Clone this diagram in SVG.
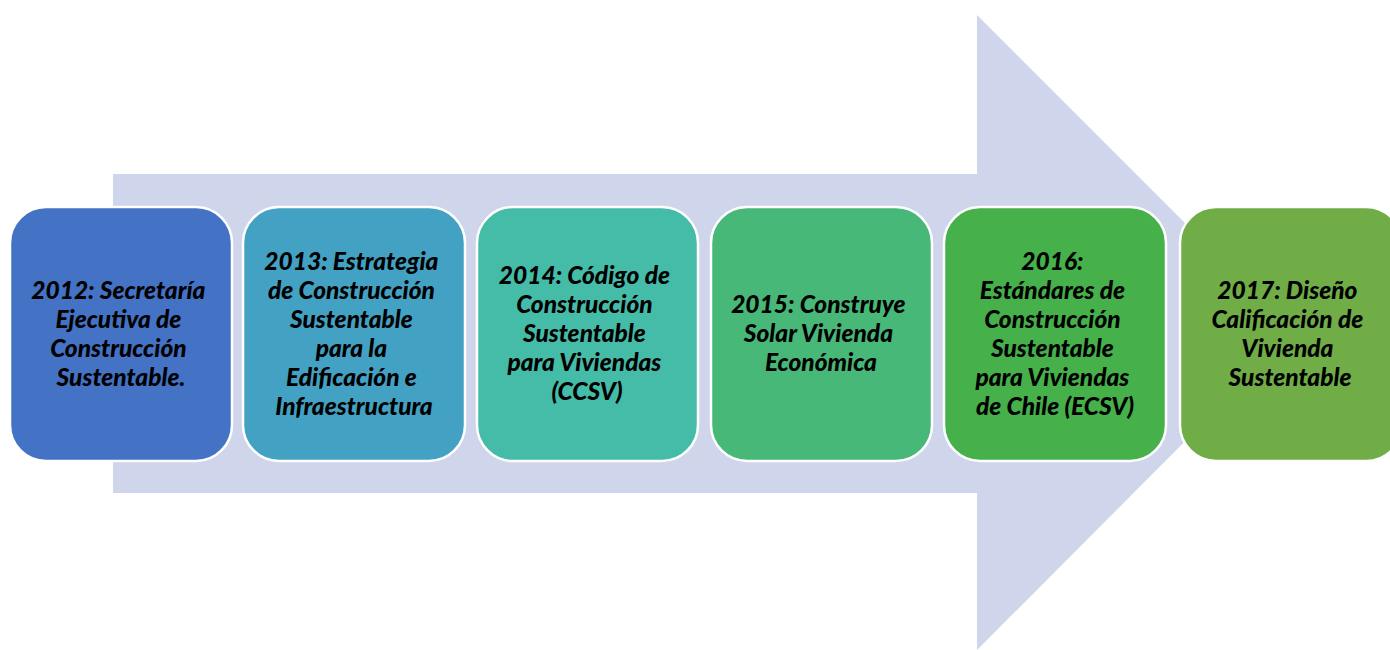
<svg xmlns="http://www.w3.org/2000/svg" width="1390" height="650" viewBox="0 0 1390 650">
  <style>
    .box { stroke: #ffffff; stroke-width: 2.5; }
    .lbl { font-family: Lato, "Liberation Sans", sans-serif; font-weight: 900; font-style: italic; font-size: 24.5px; fill: #000000; text-anchor: middle; }
  </style>
  <rect width="1390" height="650" fill="#ffffff"/>

  <!-- background timeline arrow -->
  <g id="timeline-arrow">
    <path d="M113,174 H977 V15 L1294,332 L977,650 V493 H113 Z" fill="#CFD5EA"/>
  </g>

  <g id="connectors"></g>

  <g id="node-2012">
    <rect class="box" x="10" y="207" width="222" height="254" rx="36" fill="#4472C4"/>
    <text class="lbl" x="121">
      <tspan x="121" y="299">2012: Secretaría</tspan>
      <tspan x="121" y="328">Ejecutiva de</tspan>
      <tspan x="121" y="357">Construcción</tspan>
      <tspan x="121" y="386">Sustentable.</tspan>
    </text>
  </g>

  <g id="node-2013">
    <rect class="box" x="243" y="207" width="222" height="254" rx="36" fill="#43A2C3"/>
    <text class="lbl" x="354">
      <tspan x="354" y="270">2013: Estrategia</tspan>
      <tspan x="354" y="299">de Construcción</tspan>
      <tspan x="354" y="328">Sustentable</tspan>
      <tspan x="354" y="357">para la</tspan>
      <tspan x="354" y="386">Edificación e</tspan>
      <tspan x="354" y="415">Infraestructura</tspan>
    </text>
  </g>

  <g id="node-2014">
    <rect class="box" x="477" y="207" width="221" height="254" rx="36" fill="#45BCA8"/>
    <text class="lbl" x="587">
      <tspan x="587" y="284">2014: Código de</tspan>
      <tspan x="587" y="313">Construcción</tspan>
      <tspan x="587" y="342">Sustentable</tspan>
      <tspan x="587" y="371">para Viviendas</tspan>
      <tspan x="587" y="400">(CCSV)</tspan>
    </text>
  </g>

  <g id="node-2015">
    <rect class="box" x="711" y="207" width="221" height="254" rx="36" fill="#47B878"/>
    <text class="lbl" x="821">
      <tspan x="821" y="313">2015: Construye</tspan>
      <tspan x="821" y="342">Solar Vivienda</tspan>
      <tspan x="821" y="371">Económica</tspan>
    </text>
  </g>

  <g id="node-2016">
    <rect class="box" x="944" y="207" width="222" height="254" rx="36" fill="#46B14A"/>
    <text class="lbl" x="1055">
      <tspan x="1055" y="270">2016:</tspan>
      <tspan x="1055" y="299">Estándares de</tspan>
      <tspan x="1055" y="328">Construcción</tspan>
      <tspan x="1055" y="357">Sustentable</tspan>
      <tspan x="1055" y="386">para Viviendas</tspan>
      <tspan x="1055" y="415">de Chile (ECSV)</tspan>
    </text>
  </g>

  <g id="node-2017">
    <rect class="box" x="1180" y="207" width="222" height="254" rx="36" fill="#70AD47"/>
    <text class="lbl" x="1290">
      <tspan x="1290" y="299">2017: Diseño</tspan>
      <tspan x="1290" y="328">Calificación de</tspan>
      <tspan x="1290" y="357">Vivienda</tspan>
      <tspan x="1290" y="386">Sustentable</tspan>
    </text>
  </g>
</svg>
